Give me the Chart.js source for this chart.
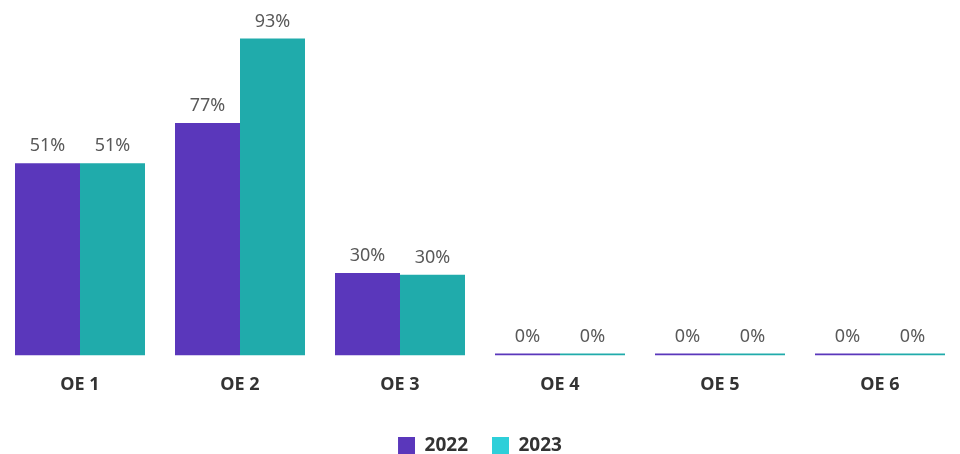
<!DOCTYPE html>
<html>
<head>
<meta charset="utf-8">
<script src="https://cdn.jsdelivr.net/npm/chart.js@4/dist/chart.umd.min.js"></script>
<style>
  html, body { margin: 0; padding: 0; background: #ffffff; }
  #wrap { width: 960px; height: 454px; }
</style>
</head>
<body>
<div id="wrap"><canvas id="oeChart"></canvas></div>
<script>
// categories and series
const categories = ['OE 1', 'OE 2', 'OE 3', 'OE 4', 'OE 5', 'OE 6'];
const seriesNames = ['2022', '2023'];
// bar heights as drawn (share of plot height, 0-100)
const heights2022 = [54.1, 65.4, 23.2, 0, 0, 0];
const heights2023 = [54.1, 89.2, 22.7, 0, 0, 0];
// labels printed above the bars
const labels2022 = ['51%', '77%', '30%', '0%', '0%', '0%'];
const labels2023 = ['51%', '93%', '30%', '0%', '0%', '0%'];

const barColors = ['#5a37bb', '#20abab'];
const legendColors = ['#5a37bb', '#2ecfd9'];
const labelSets = [labels2022, labels2023];

// draws the value text above each bar
const valueLabels = {
    id: 'valueLabels',
    afterDatasetsDraw(chart) {
        const ctx = chart.ctx;
        ctx.save();
        ctx.font = '18px "Noto Sans", sans-serif';
        ctx.fillStyle = '#595959';
        ctx.textAlign = 'center';
        ctx.textBaseline = 'bottom';
        chart.data.datasets.forEach((ds, i) => {
            const meta = chart.getDatasetMeta(i);
            meta.data.forEach((bar, j) => {
                ctx.fillText(labelSets[i][j], bar.x, bar.y - 8);
            });
        });
        ctx.restore();
    }
};

// legend sits lower than its padding would allow, so trim its box
const legendHeight = {
    id: 'legendHeight',
    beforeInit(chart) {
        const origFit = chart.legend.fit;
        chart.legend.fit = function() {
            origFit.call(this);
            this.height = 42;
        };
    }
};

const ctx = document.getElementById('oeChart').getContext('2d');
new Chart(ctx, {
    type: 'bar',
    data: {
        labels: categories,
        datasets: [
            {
                label: seriesNames[0],
                data: heights2022,
                backgroundColor: barColors[0],
                minBarLength: 2
            },
            {
                label: seriesNames[1],
                data: heights2023,
                backgroundColor: barColors[1],
                minBarLength: 2
            }
        ]
    },
    options: {
        responsive: true,
        maintainAspectRatio: false,
        animation: false,
        layout: { padding: { top: 0, left: 0, right: 0, bottom: 0 } },
        datasets: {
            bar: { categoryPercentage: 0.8125, barPercentage: 1.0 }
        },
        plugins: {
            legend: {
                position: 'bottom',
                labels: {
                    boxWidth: 17,
                    boxHeight: 17,
                    padding: 24,
                    color: '#333333',
                    font: { family: '"Noto Sans", sans-serif', size: 19, weight: 'bold' },
                    generateLabels: function(chart) {
                        return chart.data.datasets.map((ds, i) => ({
                            text: ds.label,
                            fillStyle: legendColors[i],
                            strokeStyle: legendColors[i],
                            lineWidth: 0,
                            fontColor: '#333333',
                            datasetIndex: i
                        }));
                    }
                }
            },
            tooltip: { enabled: false }
        },
        scales: {
            x: {
                grid: { display: false, drawTicks: false },
                border: { display: false },
                ticks: {
                    color: '#333333',
                    padding: 19,
                    font: { family: '"Noto Sans", sans-serif', size: 18, weight: 'bold' }
                },
                afterFit: function(scale) {
                    scale.height -= 3;
                }
            },
            y: {
                display: false,
                min: 0,
                max: 100
            }
        }
    },
    plugins: [valueLabels, legendHeight]
});
</script>
</body>
</html>
